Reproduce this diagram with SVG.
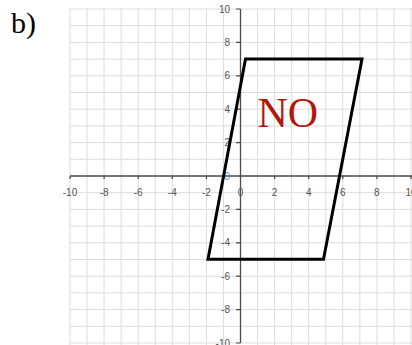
<svg xmlns="http://www.w3.org/2000/svg" width="412" height="345" viewBox="0 0 412 345">
<style>
.g{stroke:#dcdcdc;stroke-width:1;fill:none}
.ax{stroke:#4a4a4a;stroke-width:1.3;fill:none}
.tk{stroke:#4a4a4a;stroke-width:1.2}
.lb{font-family:"Liberation Sans",Arial,sans-serif;font-size:10px;fill:#555}
.shape{fill:none;stroke:#000;stroke-width:3;stroke-linejoin:miter}
</style>
<rect width="412" height="345" fill="#fff"/>
<text x="11" y="33" font-family="Liberation Serif,Times New Roman,serif" font-size="30" fill="#000">b)</text>
<g id="grid" class="g">
<path d="M70,8V345M87.05,8V345M104.1,8V345M121.15,8V345M138.2,8V345M155.25,8V345M172.3,8V345M189.35,8V345M206.4,8V345M223.45,8V345M257.55,8V345M274.6,8V345M291.65,8V345M308.7,8V345M325.75,8V345M342.8,8V345M359.85,8V345M376.9,8V345M393.95,8V345M411,8V345"/>
<path d="M70,9H412M70,25.7H412M70,42.4H412M70,59.1H412M70,75.8H412M70,92.5H412M70,109.2H412M70,125.9H412M70,142.6H412M70,159.3H412M70,192.7H412M70,209.4H412M70,226.1H412M70,242.8H412M70,259.5H412M70,276.2H412M70,292.9H412M70,309.6H412M70,326.3H412M70,343H412"/>
</g>
<g id="axes">
<path class="ax" d="M70,176H412M240.5,9V343"/>
<path class="tk" d="M70,176V179M104.1,176V179M138.2,176V179M172.3,176V179M206.4,176V179M274.6,176V179M308.7,176V179M342.8,176V179M376.9,176V179M411,176V179"/>
<path class="tk" d="M236,9H240.5M236,42.4H240.5M236,75.8H240.5M236,109.2H240.5M236,142.6H240.5M236,209.4H240.5M236,242.8H240.5M236,276.2H240.5M236,309.6H240.5M236,343H240.5"/>
<g class="lb" text-anchor="middle">
<text x="70" y="195.5">-10</text><text x="104.1" y="195.5">-8</text><text x="138.2" y="195.5">-6</text><text x="172.3" y="195.5">-4</text><text x="206.4" y="195.5">-2</text><text x="240.5" y="195.5">0</text><text x="274.6" y="195.5">2</text><text x="308.7" y="195.5">4</text><text x="342.8" y="195.5">6</text><text x="376.9" y="195.5">8</text><text x="411" y="195.5">10</text>
</g>
<g class="lb" text-anchor="end">
<text x="230" y="12.5">10</text><text x="230" y="46">8</text><text x="230" y="79.4">6</text><text x="230" y="112.8">4</text><text x="230" y="146.2">2</text><text x="230" y="179.5" fill="#6a8fb0">0</text><text x="230" y="213">-2</text><text x="230" y="246.4">-4</text><text x="230" y="279.8">-6</text><text x="230" y="313.2">-8</text><text x="230" y="346.5">-10</text>
</g>
</g>
<g id="parallelogram">
<polygon class="shape" points="245.5,59 362,59 323.5,259.3 208,259.3"/>
</g>
<text id="label" x="257.5" y="126.5" font-family="Liberation Serif,Times New Roman,serif" font-size="42" fill="#b0180e">NO</text>
</svg>
